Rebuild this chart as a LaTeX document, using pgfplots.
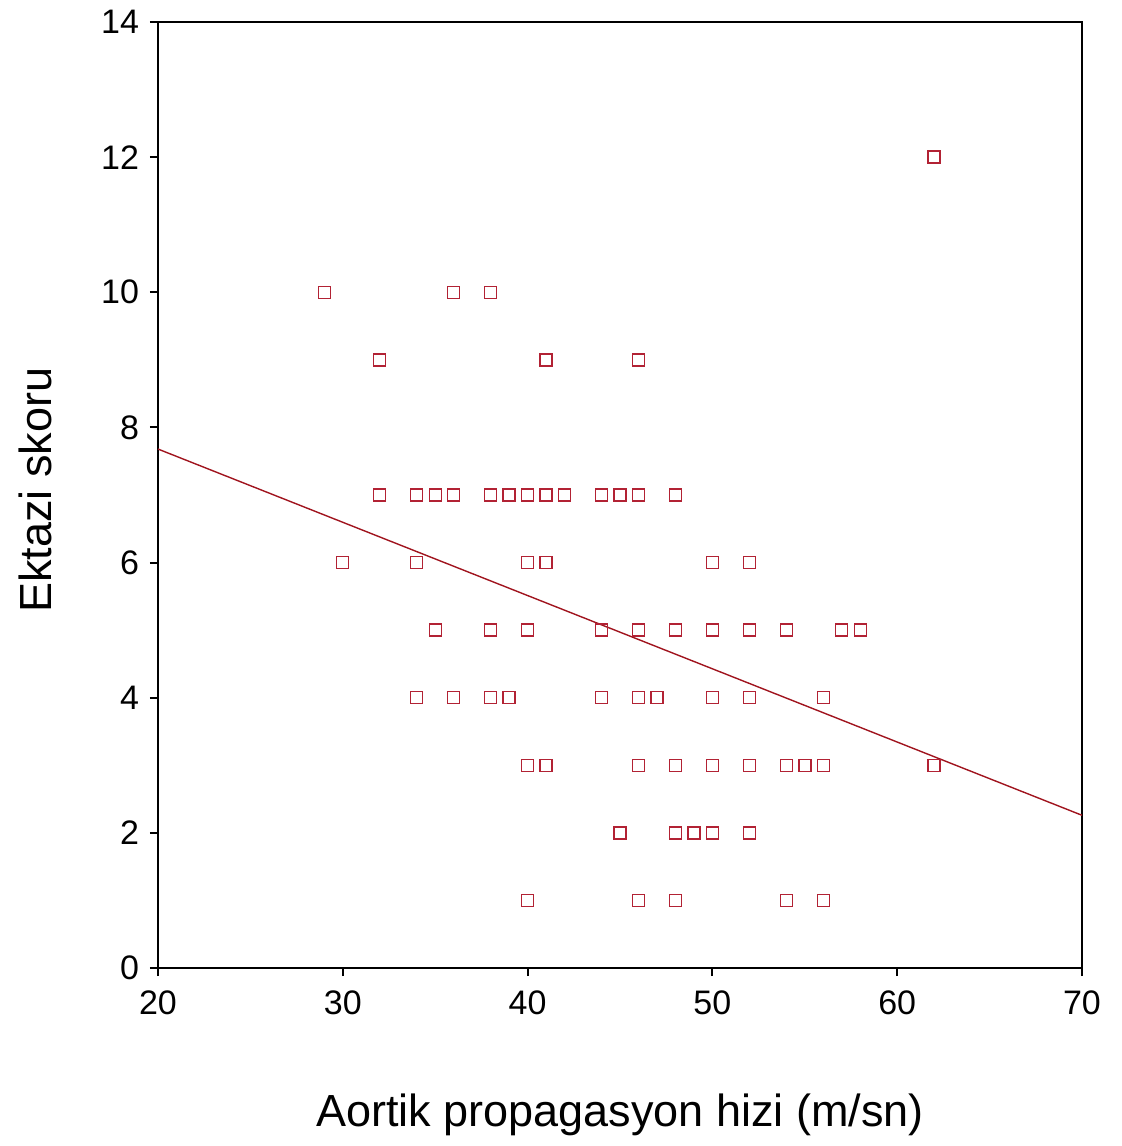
\documentclass[border=0pt]{standalone}
\usepackage{fontspec}
\setmainfont{Liberation Sans}
\usepackage{pgfplots}
\pgfplotsset{compat=1.18}
\definecolor{mk}{RGB}{178,34,52}
\definecolor{ln}{RGB}{160,20,30}
\begin{document}
\begin{tikzpicture}
\begin{axis}[
  scale only axis,
  width=462pt, height=473pt,
  xmin=20, xmax=70, ymin=0, ymax=14,
  xtick={20,30,40,50,60,70},
  ytick={0,2,4,6,8,10,12,14},
  axis line style={line width=1pt, black},
  tick style={line width=1pt, black},
  tick align=outside,
  major tick length=4pt,
  xtick pos=bottom, ytick pos=left,
  /pgf/number format/assume math mode=true,
  ticklabel style={font=\fontsize{17}{20}\selectfont},
  xticklabel style={yshift=-4pt},
  yticklabel style={xshift=-2pt},
  xlabel={Aortik propagasyon hizi (m/sn)},
  ylabel={Ektazi skoru},
  xlabel style={at={(axis description cs:0.5,-0.155)}, anchor=center, font=\fontsize{22.5}{27}\selectfont},
  ylabel style={at={(axis description cs:-0.133,0.505)}, rotate=0, anchor=center, font=\fontsize{22.5}{27}\selectfont},
  clip=false,
]
\addplot[only marks, mark=square, mark size=3pt, mark options={draw=mk, line width=0.7pt}] coordinates {
(62,12)
(29,10) (36,10) (38,10)
(32,9) (41,9) (46,9)
(32,7) (34,7) (35,7) (36,7) (38,7) (39,7) (40,7) (41,7) (42,7) (44,7) (45,7) (46,7) (48,7)
(30,6) (34,6) (40,6) (41,6) (50,6) (52,6)
(35,5) (38,5) (40,5) (44,5) (46,5) (48,5) (50,5) (52,5) (54,5) (57,5) (58,5)
(34,4) (36,4) (38,4) (39,4) (44,4) (46,4) (47,4) (50,4) (52,4) (56,4)
(40,3) (41,3) (46,3) (48,3) (50,3) (52,3) (54,3) (55,3) (56,3) (62,3)
(45,2) (48,2) (49,2) (50,2) (52,2)
(40,1) (46,1) (48,1) (54,1) (56,1)
};
\addplot[ln, line width=0.7pt, no marks] coordinates {(20,7.68) (70,2.26)};
\end{axis}
\path (current axis.south west) ++(-79pt,-89pt) coordinate (bl);
\path (current axis.north east) ++(20pt,11pt) coordinate (tr);
\path (bl) rectangle (tr);
\end{tikzpicture}
\end{document}
